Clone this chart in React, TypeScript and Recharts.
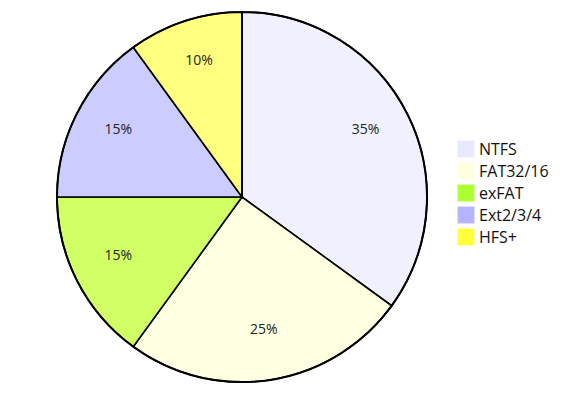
import { PieChart, Pie, Cell } from "recharts";

const names = ["NTFS", "FAT32/16", "exFAT", "Ext2/3/4", "HFS+"];
const shares = [35, 25, 15, 15, 10];
const sliceColors = ["#F0F0FF", "#FFFFE2", "#D0FF66", "#CCCCFF", "#FFFF80"];
const keyColors = ["#E8E8FF", "#FFFFE0", "#ADFF2F", "#B4B4FF", "#FFFF3C"];

const data = names.map((name, i) => ({ name, value: shares[i] }));

const RAD = Math.PI / 180;
const font = "'Open Sans', 'Noto Sans', sans-serif";

const renderLabel = (p: any) => {
  const r = p.outerRadius * 0.75;
  const x = p.cx + r * Math.cos(-p.midAngle * RAD);
  const y = p.cy + r * Math.sin(-p.midAngle * RAD);
  return (
    <text x={x} y={y} fill="#222" fontSize={14} fontFamily={font} textAnchor="middle">
      {`${p.value}%`}
    </text>
  );
};

const KeyBox = () => (
  <div style={{ position: "absolute", left: 457, top: 138, fontFamily: font, fontSize: 16, color: "#111" }}>
    {data.map((d, i) => (
      <div key={d.name} style={{ display: "flex", alignItems: "center", height: 22 }}>
        <div
          style={{
            width: 16,
            height: 16,
            background: keyColors[i],
            border: "1px solid rgba(255,255,255,0.6)",
            marginRight: 4,
          }}
        />
        <span>{d.name}</span>
      </div>
    ))}
  </div>
);

export default function App() {
  return (
    <div style={{ position: "absolute", left: 0, top: 0, width: 582, height: 398, background: "#fff" }}>
      <PieChart width={582} height={398} margin={{ top: 0, right: 0, bottom: 0, left: 0 }}>
        <Pie
          data={data}
          dataKey="value"
          cx={242}
          cy={197}
          outerRadius={185}
          startAngle={90}
          endAngle={-270}
          stroke="#000"
          strokeWidth={1.6}
          label={renderLabel}
          labelLine={false}
          isAnimationActive={false}
        >
          {data.map((d, i) => (
            <Cell key={d.name} fill={sliceColors[i]} />
          ))}
        </Pie>
        <Pie
          data={[{ value: 1 }]}
          dataKey="value"
          cx={242}
          cy={197}
          outerRadius={185}
          startAngle={90}
          endAngle={-270}
          fill="none"
          stroke="#000"
          strokeWidth={2}
          isAnimationActive={false}
        />
      </PieChart>
      <KeyBox />
    </div>
  );
}
